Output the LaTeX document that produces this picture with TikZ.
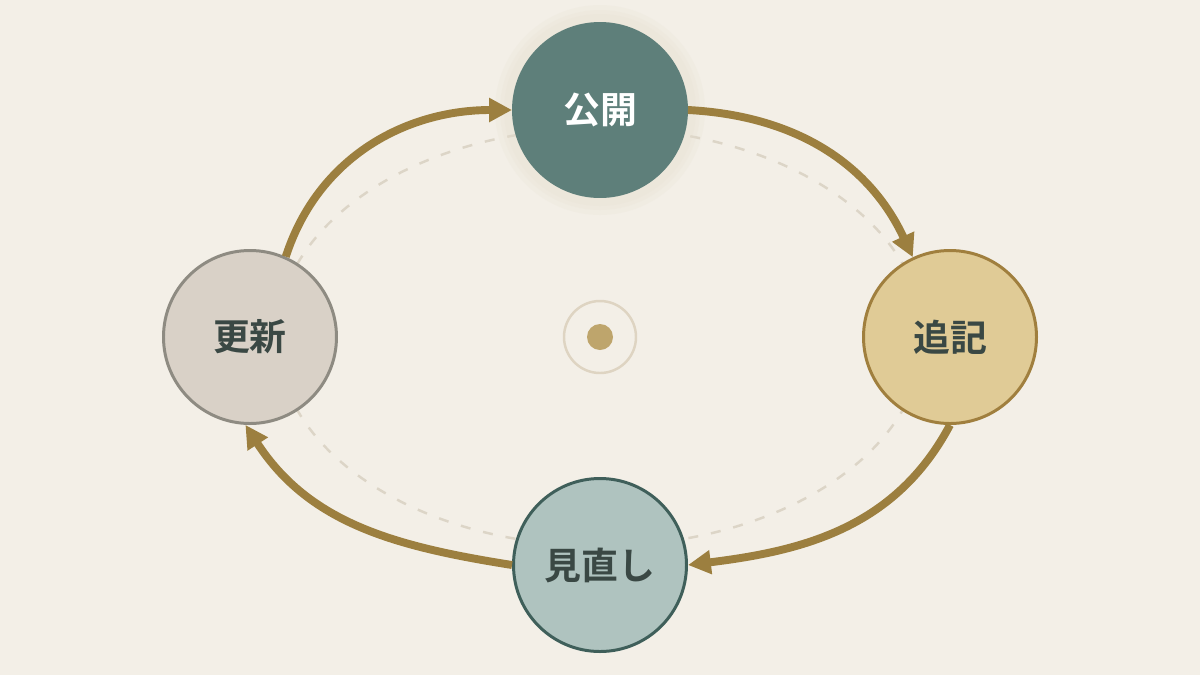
\documentclass[tikz,border=0pt]{standalone}
\usepackage{fontspec}
\newfontfamily\cjk[BoldFont={Noto Sans CJK JP Bold}]{Noto Sans CJK JP}
\usetikzlibrary{arrows.meta}
\definecolor{bgcol}{HTML}{F3EFE7}
\definecolor{guidecol}{HTML}{DCD5C7}
\definecolor{ringcol}{HTML}{DED4C2}
\definecolor{dotcol}{HTML}{BEA56C}
\definecolor{glowcol}{HTML}{E6DFD0}
\definecolor{arrowcol}{HTML}{9C7F3F}
\definecolor{textcol}{HTML}{3A4844}
\definecolor{pubfill}{HTML}{5E7F7A}
\definecolor{addfill}{HTML}{E0CB96}
\definecolor{adddraw}{HTML}{A07F3E}
\definecolor{revfill}{HTML}{AFC3BF}
\definecolor{revdraw}{HTML}{3F5F5A}
\definecolor{updfill}{HTML}{D9D1C7}
\definecolor{upddraw}{HTML}{8E8B82}

\begin{document}
\begin{tikzpicture}[
  stage/.style={circle, minimum size=3.46cm, line width=1.7pt, text=textcol,
    font=\cjk\bfseries\fontsize{21}{25}\selectfont},
  flow/.style={-{Triangle[length=13pt,width=13pt]}, line width=4.5pt, arrowcol}
]
  % Background
  \fill[bgcol] (-12,-6.76) rectangle (12,6.74);

  % Guide ellipse
  \draw[guidecol, line width=1.4pt, dash pattern=on 0.2cm off 0.26cm] (0,0) ellipse (6.46 and 4.18);

  % Centre mark
  \draw[ringcol, line width=1.4pt] (0,0) circle (0.72);
  \fill[dotcol] (0,0) circle (0.26);

  % Soft glow behind the top stage
  \foreach \r in {2.1,2.0,1.92}
    \fill[glowcol, opacity=0.18] (0,4.54) circle (\r);

  % Stages
  \node[stage, fill=pubfill, draw=pubfill, text=white] (pub) at (0,4.54) {公開};
  \node[stage, fill=addfill, draw=adddraw] (add) at (7,0) {追記};
  \node[stage, fill=revfill, draw=revdraw] (rev) at (0,-4.56) {見直し};
  \node[stage, fill=updfill, draw=upddraw] (upd) at (-7,0) {更新};

  % Cycle
  \draw[flow] (pub.east) to[out=-3, in=115] (add.115);
  \draw[flow] (add.south) to[out=-118, in=7] (rev.east);
  \draw[flow] (rev.west) to[out=171, in=-57] (upd.-93);
  \draw[flow] (upd.66) to[out=72, in=180] (pub.west);
\end{tikzpicture}
\end{document}
